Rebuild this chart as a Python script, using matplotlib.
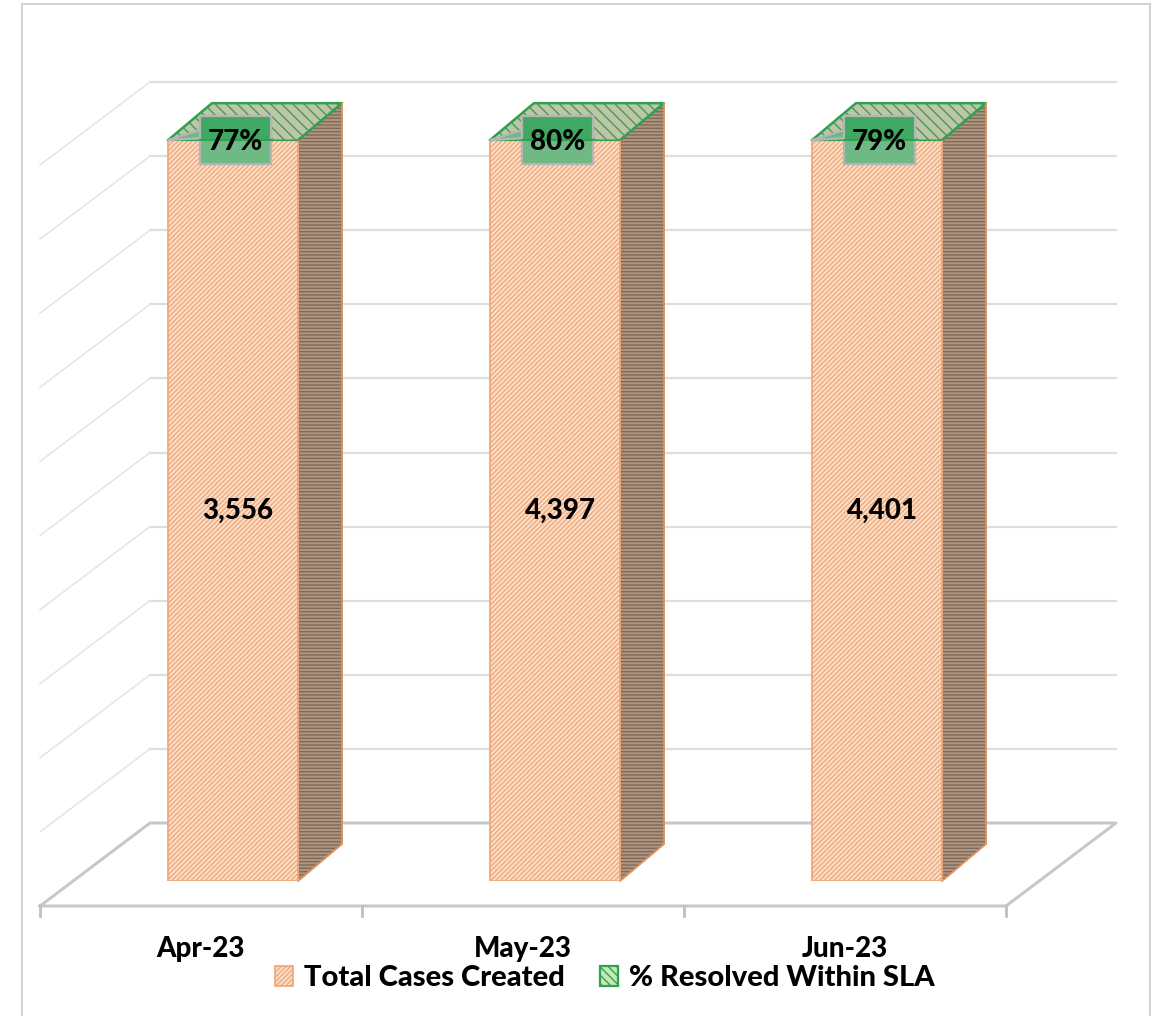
import numpy as np
import matplotlib
matplotlib.use('Agg')
import matplotlib.pyplot as plt
from matplotlib.patches import Polygon, Rectangle

months = ['Apr-23', 'May-23', 'Jun-23']
total_cases = np.array([3556, 4397, 4401])
pct_resolved = np.array([0.77, 0.80, 0.79])
grid_levels = [0.1, 0.2, 0.3, 0.4, 0.5, 0.6, 0.7, 0.8, 0.9, 1.0]

W, H = 1155, 1016
plt.rcParams['font.family'] = ['Lato', 'DejaVu Sans']
plt.rcParams['hatch.linewidth'] = 1.0

fig = plt.figure(figsize=(W / 100, H / 100), dpi=100)
fig.patches.append(Rectangle((22 / W, -0.01), 1128 / W, 1.006, transform=fig.transFigure,
                             fc='none', ec='#d4d4d4', lw=1.5, zorder=0))

# front plane of the fake 3d box, px 40-1006 wide, 881-140 tall
ax = fig.add_axes([40 / W, 1 - 881 / H, 966 / W, 741 / H], zorder=2)
ax.set_xlim(-0.5, 2.5)
ax.set_ylim(0, 1)
ax.patch.set_alpha(0)
for s in ax.spines.values():
    s.set_visible(False)
ax.set_yticks([])
ax.set_xticks([])

ux = 966 / 3       # px per category
uy = 741           # px per 100%
wall_dx = 110 / ux
wall_dy = 58 / uy
floor_y = -25 / uy
bar_dx = 44 / ux
bar_dy = 37 / uy
bar_shift = 32 / ux
bar_w = 130 / ux

x = np.arange(len(months))
left_edge, right_edge = -0.5, 2.5

# walls and floor
for g in grid_levels:
    ax.plot([left_edge + wall_dx, right_edge + wall_dx], [g + wall_dy] * 2,
            color='#dedede', lw=1.6, clip_on=False, zorder=1)
    ax.plot([left_edge, left_edge + wall_dx], [g + floor_y, g + wall_dy],
            color='#e4e4e4', lw=1.1, clip_on=False, zorder=1)
ax.plot([left_edge, left_edge + wall_dx, right_edge + wall_dx, right_edge, left_edge],
        [floor_y, wall_dy, wall_dy, floor_y, floor_y],
        color='#c6c9cb', lw=2.2, clip_on=False, zorder=1)
for t in np.arange(left_edge, right_edge + 0.5):
    ax.plot([t, t], [floor_y, floor_y - 10 / uy], color='#bfbfbf', lw=2, clip_on=False, zorder=1)

share = total_cases / (total_cases + pct_resolved)
rest = 1 - share

# side and top faces
for xi, s in zip(x, share):
    xr = xi + bar_shift + bar_w / 2
    xl = xi + bar_shift - bar_w / 2
    side = Polygon([(xr, 0), (xr + bar_dx, bar_dy), (xr + bar_dx, s + bar_dy), (xr, s)],
                   fc='#b0957f', ec='#7d6a5c', hatch='-----', lw=1, clip_on=False, zorder=2)
    ax.add_patch(side)
    ax.plot([xr, xr + bar_dx, xr + bar_dx], [0, bar_dy, s + bar_dy], color='#e8955e', lw=1.2,
            clip_on=False, zorder=3)
    top = Polygon([(xl, s), (xl + bar_dx, s + bar_dy), (xr + bar_dx, s + bar_dy), (xr, s)],
                  fc='#bcc7a6', ec='#4d9562', hatch='\\\\\\', lw=1, clip_on=False, zorder=2)
    ax.add_patch(top)
    ax.plot([xl, xl + bar_dx, xr + bar_dx, xr], [s, s + bar_dy, s + bar_dy, s], color='#2fa24f',
            lw=1.8, clip_on=False, zorder=2.5)

ax.bar(x + bar_shift, share, bar_w, color='#fcdfc8', edgecolor='#efa97c', hatch='///////',
       lw=1.3, label='Total Cases Created', zorder=3)
ax.bar(x + bar_shift, rest, bar_w, bottom=share, color='#c9e8b8', edgecolor='#2fa24f',
       hatch='\\\\\\\\', lw=1.6, label='% Resolved Within SLA', zorder=3)

for xi, v, s in zip(x, total_cases, share):
    ax.text(xi + bar_shift + 5 / ux, s / 2, f'{v:,}', ha='center', va='center',
            fontsize=20, fontweight='black', color='black', zorder=5)

for xi, p, s in zip(x, pct_resolved, share):
    xl = xi + bar_shift - bar_w / 2
    bl, br = xl + 32 / ux, xl + 103 / ux
    yb, yt = s - 24 / uy, s + 24 / uy
    box = Polygon([(xl, s), (bl, s + 10 / uy), (bl, yt), (br, yt), (br, yb), (bl, yb), (bl, s + 2 / uy)],
                  fc='#6fba84', ec='#b5b5b5', lw=1.6, clip_on=False, zorder=4)
    ax.add_patch(box)
    upper = Polygon([(bl, s), (bl, yt), (br, yt), (br, s)], fc='#3fa862', ec='none', clip_on=False, zorder=4.2)
    ax.add_patch(upper)
    ax.plot([bl, bl, br, br], [s, yt, yt, s], color='#b5b5b5', lw=1.6, clip_on=False, zorder=4.3)
    ax.plot([bl, br], [s, s], color='#2fa24f', lw=1.5, zorder=4.5, clip_on=False)
    ax.text((bl + br) / 2, s - 2 / uy, f'{p:.0%}', ha='center', va='center',
            fontsize=20, fontweight='black', color='black', zorder=5)

for xi, m in zip(x, months):
    ax.text(xi, (881 - 949) / uy, m, ha='center', va='center', fontsize=20,
            fontweight='black', color='black', clip_on=False)

ax.legend(loc='center', bbox_to_anchor=(605 / W, 1 - 978 / H), bbox_transform=fig.transFigure,
          ncol=2, frameon=False, prop={'weight': 'black', 'size': 21},
          handlelength=0.6, handleheight=0.7, handletextpad=0.4, columnspacing=1.2)

fig.savefig('out.png', dpi=100)
